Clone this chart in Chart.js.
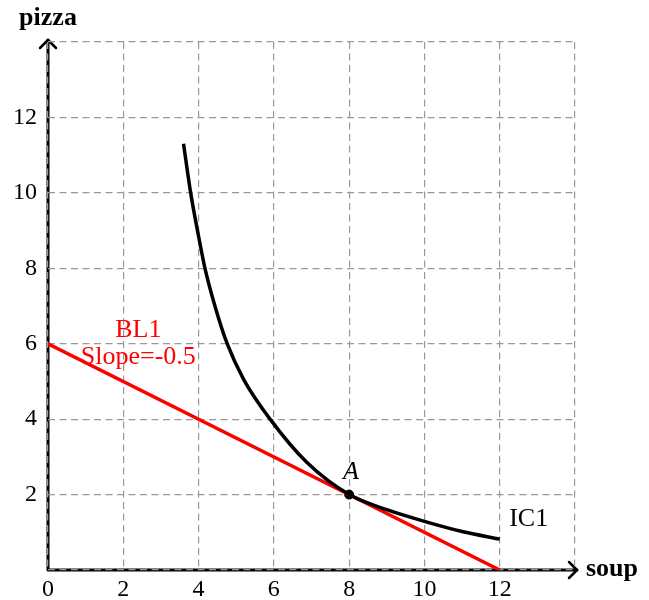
<!DOCTYPE html>
<html>
<head>
<meta charset="utf-8">
<script src="https://cdn.jsdelivr.net/npm/chart.js@4"></script>
<style>
  body { margin: 0; background: #fff; }
  #wrap { width: 649px; height: 600px; }
</style>
</head>
<body>
<div id="wrap"><canvas id="myChart"></canvas></div>
<script>
// indifference curve IC1
const icX = [3.6, 3.79, 4, 4.17, 4.45, 4.76, 5.2, 5.9, 6.88, 8, 9, 10, 11, 12];
const icY = [11.3, 10, 8.85, 8, 6.95, 6, 5.05, 4.0, 2.85, 2.0, 1.6, 1.29, 1.02, 0.82];

// budget line BL1
const blX = [0, 12];
const blY = [6, 0];

// point A
const pointA = [8, 2];

const xTicks = [0, 2, 4, 6, 8, 10, 12];
const yTicks = [2, 4, 6, 8, 10, 12];
const gridVals = [0, 2, 4, 6, 8, 10, 12, 14];

const serif = "'Liberation Serif', 'DejaVu Serif', serif";

const toPts = (xs, ys) => xs.map((x, i) => ({ x: x, y: ys[i] }));

// black axis lines with arrow heads, drawn under the grid
const axesPlugin = {
  id: 'axes',
  beforeDraw(chart) {
    const ctx = chart.ctx;
    const xs = chart.scales.x, ys = chart.scales.y;
    const x0 = xs.getPixelForValue(0), y0 = ys.getPixelForValue(0);
    const xEnd = xs.getPixelForValue(14) + 2, yEnd = ys.getPixelForValue(14) - 2;
    ctx.save();
    ctx.strokeStyle = '#000';
    ctx.lineWidth = 3;
    ctx.lineCap = 'round';
    ctx.lineJoin = 'round';
    ctx.beginPath();
    ctx.moveTo(x0, y0); ctx.lineTo(xEnd, y0);
    ctx.moveTo(x0, y0); ctx.lineTo(x0, yEnd);
    ctx.stroke();
    ctx.lineWidth = 2.5;
    ctx.beginPath();
    ctx.moveTo(xEnd - 8, y0 - 8); ctx.lineTo(xEnd, y0); ctx.lineTo(xEnd - 8, y0 + 8);
    ctx.moveTo(x0 - 8, yEnd + 8); ctx.lineTo(x0, yEnd); ctx.lineTo(x0 + 8, yEnd + 8);
    ctx.stroke();
    ctx.restore();
  },
  afterDraw(chart) {
    const ctx = chart.ctx;
    const xs = chart.scales.x, ys = chart.scales.y;
    const px = v => xs.getPixelForValue(v), py = v => ys.getPixelForValue(v);
    ctx.save();
    ctx.textAlign = 'center';
    ctx.textBaseline = 'middle';
    ctx.font = 'bold 26px ' + serif;
    ctx.fillStyle = '#000';
    ctx.fillText('pizza', px(0), 18);
    ctx.textAlign = 'left';
    ctx.fillText('soup', px(14) + 11, py(0) - 1);
    ctx.font = '26px ' + serif;
    ctx.fillText('IC1', px(12.25), py(1.36));
    ctx.textAlign = 'center';
    ctx.font = 'italic 26px ' + serif;
    ctx.fillText('A', px(8.05), py(2.6));
    ctx.font = '26px ' + serif;
    ctx.fillStyle = '#ff0000';
    ctx.fillText('BL1', px(2.4), py(6.36));
    ctx.fillText('Slope=-0.5', px(2.4), py(5.65));
    ctx.restore();
  }
};

const gridStyle = { color: '#999', lineWidth: 1.2, drawTicks: false };
const borderStyle = { display: false, dash: [7, 4.5] };

const config = {
  type: 'scatter',
  data: {
    datasets: [
      {
        label: 'IC1',
        data: toPts(icX, icY),
        showLine: true,
        borderColor: '#000',
        borderWidth: 3.5,
        pointRadius: 0,
        cubicInterpolationMode: 'monotone'
      },
      {
        label: 'BL1',
        data: toPts(blX, blY),
        showLine: true,
        borderColor: '#ff0000',
        borderWidth: 3.5,
        pointRadius: 0
      },
      {
        label: 'A',
        data: [{ x: pointA[0], y: pointA[1] }],
        pointRadius: 4.5,
        backgroundColor: '#000',
        borderColor: '#000'
      }
    ]
  },
  options: {
    responsive: true,
    maintainAspectRatio: false,
    animation: false,
    layout: { padding: { top: 42, right: 74, left: 0, bottom: 0 } },
    plugins: { legend: { display: false }, tooltip: { enabled: false } },
    scales: {
      x: {
        type: 'linear', min: 0, max: 14,
        afterFit: s => { s.height = 30; },
        afterBuildTicks: s => { s.ticks = gridVals.map(v => ({ value: v })); },
        border: borderStyle,
        grid: gridStyle,
        ticks: {
          padding: 5,
          color: '#000',
          font: { family: serif, size: 24 },
          callback: v => xTicks.includes(v) ? String(v) : ''
        }
      },
      y: {
        type: 'linear', min: 0, max: 14,
        afterFit: s => { s.width = 48; },
        afterBuildTicks: s => { s.ticks = gridVals.map(v => ({ value: v })); },
        border: borderStyle,
        grid: gridStyle,
        ticks: {
          padding: 11,
          color: '#000',
          font: { family: serif, size: 24 },
          callback: v => yTicks.includes(v) ? String(v) : ''
        }
      }
    }
  },
  plugins: [axesPlugin]
};

const myChart = new Chart(document.getElementById('myChart'), config);
</script>
</body>
</html>
